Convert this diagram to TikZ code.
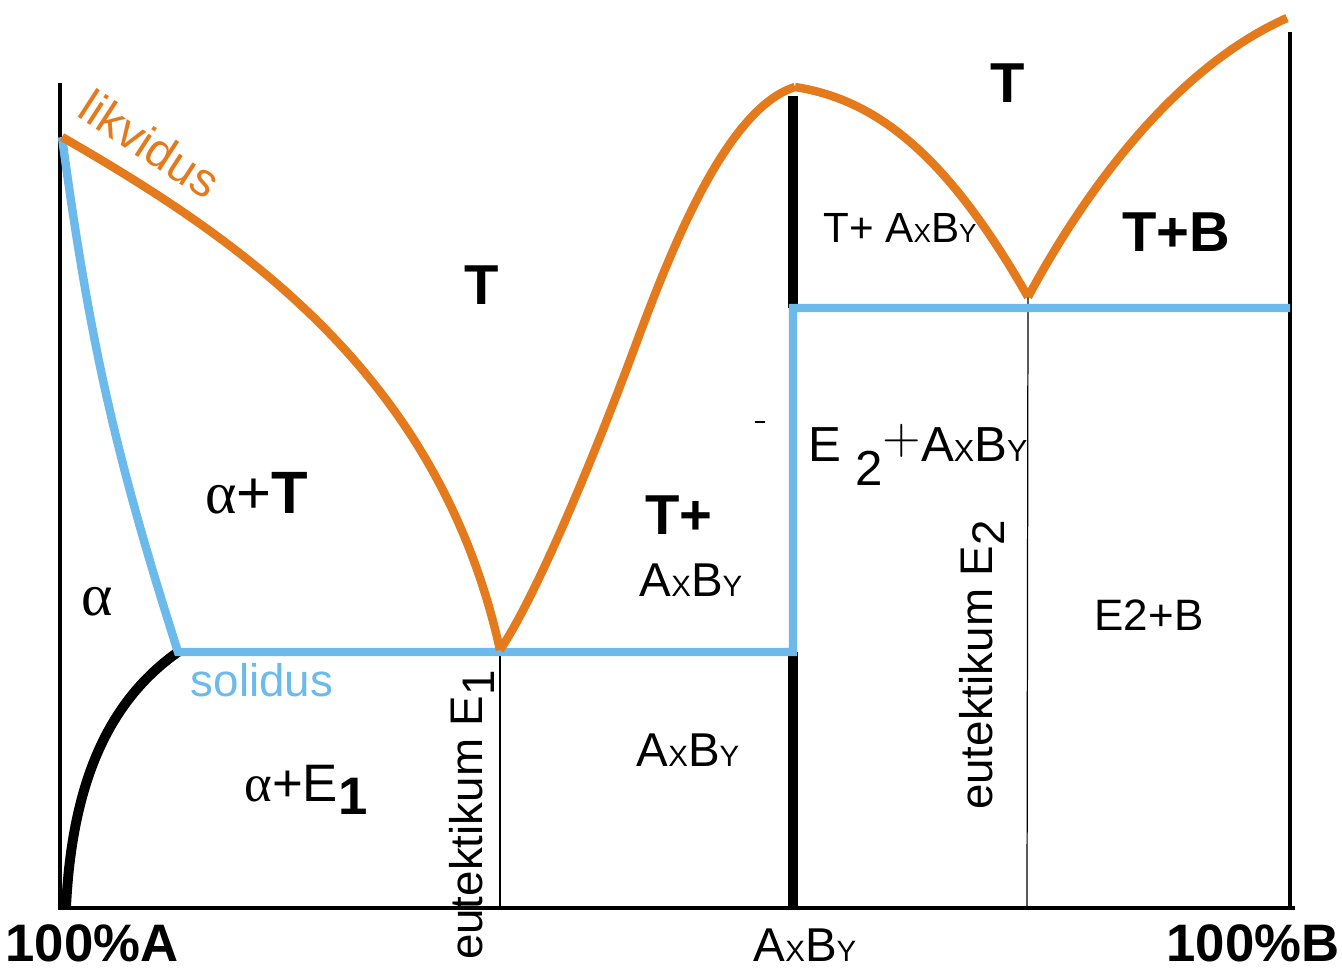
\documentclass[tikz,border=0pt]{standalone}
\usepackage{fontspec}
\setmainfont{Liberation Sans}
\newfontfamily\greekserif{Liberation Serif}
\usetikzlibrary{positioning}
\definecolor{liqorange}{RGB}{228,122,28}
\definecolor{solblue}{RGB}{108,186,236}
\newcommand{\axby}{A\scalebox{0.62}{X}B\scalebox{0.62}{Y}}
\newcommand{\alf}{{\greekserif α}}

\begin{document}
\begin{tikzpicture}[x=0.01cm,y=-0.01cm,
  axis/.style={line width=1.2pt},
  liq/.style={draw=liqorange, line width=2.4pt, line join=round},
  sol/.style={draw=solblue, line width=2.4pt},
  phase/.style={line width=2.8pt},
  guide/.style={line width=0.35pt},
  lbl/.style={inner sep=0pt, font=\fontsize{13.5}{16}\selectfont},
  big/.style={inner sep=0pt, font=\fontsize{16}{19}\selectfont\bfseries}]

\useasboundingbox (0,0) rectangle (1342,969);

% key points
\coordinate (o) at (60,908);
\coordinate (yTop) at (60,83);
\coordinate (xEnd) at (1295,908);
\coordinate (bTop) at (1290,32);
\coordinate (bBot) at (1290,908);
\coordinate (liqA) at (62,137);
\coordinate (sKnee) at (178,652);
\coordinate (e1) at (500,650);
\coordinate (e1Bot) at (500,908);
\coordinate (bend1) at (630,360);
\coordinate (peak) at (795,87);
\coordinate (cmpTop) at (793,96);
\coordinate (cmpHigh) at (793,308);
\coordinate (cmpLow) at (793,652);
\coordinate (cmpBot) at (793,908);
\coordinate (e2) at (1028,297);
\coordinate (e2Bot) at (1027,908);
\coordinate (bSol) at (1290,308);
\coordinate (liqB) at (1287,18);
\coordinate (aBot) at (66,908);

% axes
\draw[axis] (yTop) -- (o) -- (xEnd);
\draw[axis] (bTop) -- (bBot);

% guides at the eutectics
\draw[guide] (e1) -- (e1Bot);
\draw[guide] (e2) -- (e2Bot);

% compound AxBy and solubility of alpha
\draw[phase] (cmpTop) -- (cmpHigh);
\draw[phase] (cmpLow) -- (cmpBot);
\draw[phase] (sKnee) .. controls (110,700) and (72,780) .. (aBot);

% solidus
\draw[sol] (liqA) to[bend right=5] (sKnee) -- (cmpLow) -- (cmpHigh) -- (bSol);

% liquidus
\draw[liq] (liqA) .. controls (250,245) and (440,380) .. (e1);
\draw[liq] (e1) .. controls (540,590) and (600,440) .. (bend1)
  .. controls (660,280) and (720,110) .. (peak);
\draw[liq] (peak) .. controls (880,100) and (950,160) .. (e2);
\draw[liq] (e2) .. controls (1080,200) and (1170,70) .. (liqB);

\draw[guide] (755,422) -- (765,422);

% labels
\node[lbl, text=liqorange, rotate=-33] (likv) at (150,144) {likvidus};
\node[lbl, text=solblue, font=\fontsize{13}{15}\selectfont] (solid) at (262,680) {solidus};
\node[big] (tLeft) at (482,285) {T};
\node[big] (tRight) at (1008,83) {T};
\node[lbl, font=\fontsize{17}{19}\selectfont] (alpha) at (97,602) {\alf};
\node[lbl, font=\fontsize{17}{19}\selectfont] (alphaT) at (257,493) {\alf+\textbf{T}};
\node[lbl, font=\fontsize{15}{18}\selectfont] (alphaE) at (306,790) {\alf+E\raisebox{-.45ex}{\bfseries 1}};
\node[lbl, font=\fontsize{13}{15}\selectfont, rotate=90] (eut1) at (472,815) {eutektikum E\raisebox{-.5ex}{1}};
\node[lbl, font=\fontsize{13}{15}\selectfont, rotate=90] (eut2) at (982,665) {eutektikum E\raisebox{-.5ex}{2}};
\node[big] (tPlus) at (679,515) {T+};
\node[lbl, below=0.28cm of tPlus, xshift=0.12cm] (abMid) {\axby};
\node[lbl] (abLow) at (688,750) {\axby};
\node[lbl] (abAxis) at (805,945) {\axby};
\node[lbl, font=\fontsize{12}{14}\selectfont] (tab) at (900,228) {T+ \axby};
\node[big] (tB) at (1176,232) {T+B};
\node[lbl, font=\fontsize{14}{16}\selectfont] (e2ab) at (918,455) {E \raisebox{-.9ex}{2}\raisebox{.3ex}{$+$}\axby};
\node[lbl, font=\fontsize{12.5}{15}\selectfont] (e2b) at (1149,615) {E2+B};
\node[big, font=\fontsize{15}{18}\selectfont\bfseries] (pA) at (92,943) {100\%A};
\node[big, font=\fontsize{15}{18}\selectfont\bfseries] (pB) at (1253,943) {100\%B};

\end{tikzpicture}
\end{document}
